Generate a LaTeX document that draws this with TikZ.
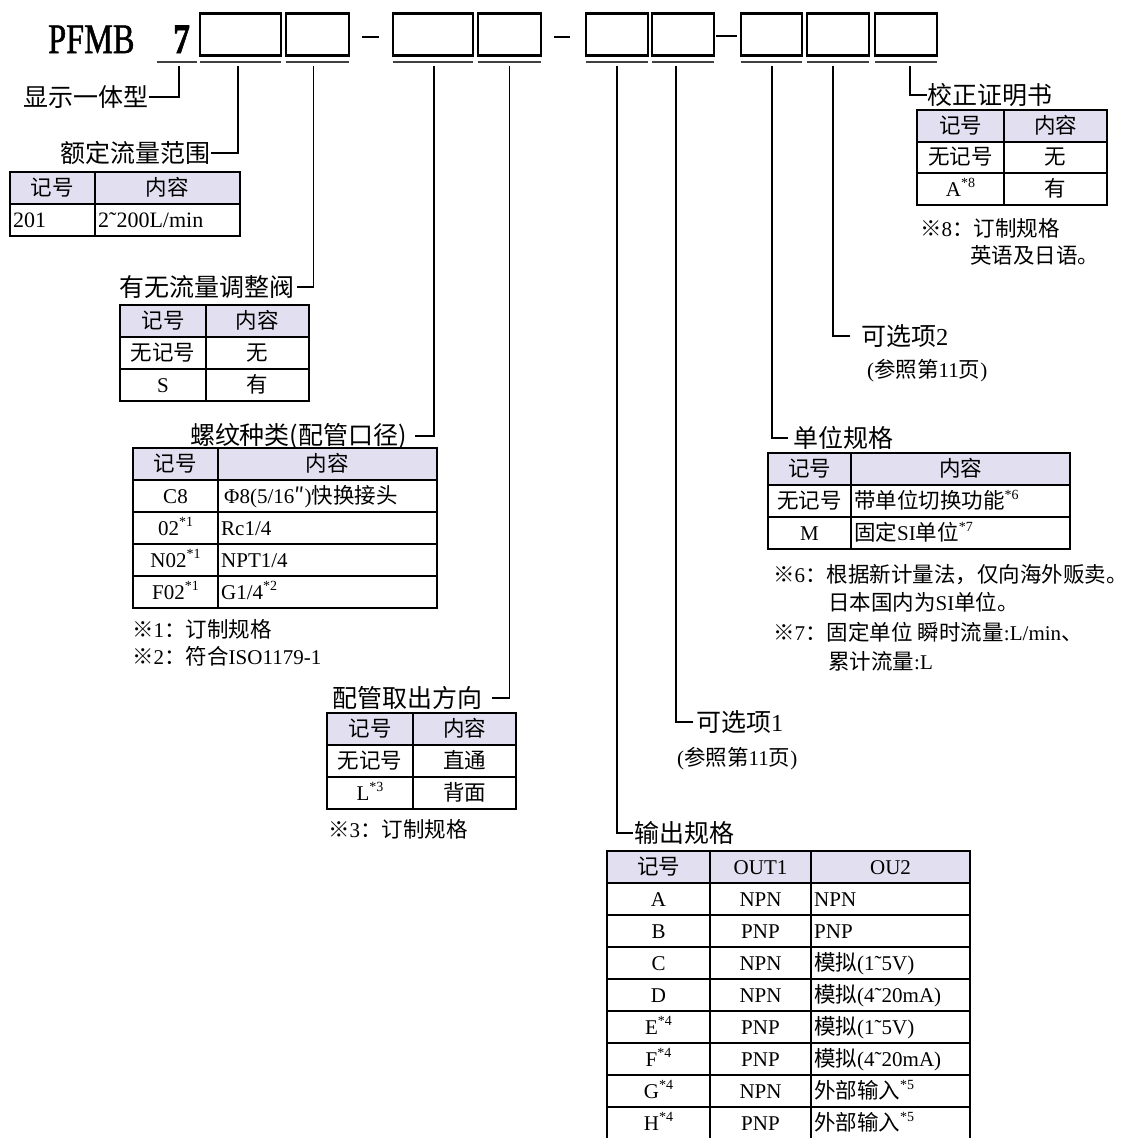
\documentclass[tikz,border=0pt]{standalone}
\usepackage{fontspec}
\setmainfont{Liberation Serif}
\newfontfamily\cjk{Noto Sans CJK SC}[Scale=1.024]
\newfontfamily\bigserifh{Liberation Serif}[FakeStretch=0.77,FakeBold=1.2]
\newfontfamily\sevenf{Liberation Serif Bold}[FakeStretch=0.8,FakeBold=1.5]
\newcommand\zh[1]{{\cjk #1}}
\newcommand\supx[1]{\raisebox{0.42em}{\fontsize{14}{14}\selectfont #1}}
\definecolor{hdr}{RGB}{226,223,240}
\begin{document}
\begin{tikzpicture}[x=1pt,y=-1pt,
  box/.style={draw, line width=2.4pt, inner sep=0pt, outer sep=0pt, anchor=north west, minimum height=42pt},
  uline/.style={line width=1.8pt, black!75},
  dashl/.style={line width=1.4pt},
  leader/.style={line width=1.5pt},
  lbl/.style={inner sep=0pt, font=\fontsize{24.4}{28}\selectfont},
  cell/.style={inner sep=0pt, anchor=base, font=\fontsize{21}{24}\selectfont},
  cellw/.style={cell, anchor=base west},
  note/.style={inner sep=0pt, anchor=base west, font=\fontsize{21}{24}\selectfont},
  tbl/.style={line width=2pt},
]
\useasboundingbox (0,0) rectangle (1128,1138);
\clip (0,0) rectangle (1128,1138);

% ---------- model code ----------
\node[anchor=base west, inner sep=0pt, font=\bigserifh\fontsize{42}{42}\selectfont] (pfmb) at (48,53) {PFMB};
\node[anchor=base west, inner sep=0pt, font=\sevenf\fontsize{42}{42}\selectfont] (seven) at (173,53) {7};
\node[box, minimum width=81pt] (b1) at (200,13.5) {};
\node[box, minimum width=63pt] (b2) at (286,13.5) {};
\node[box, minimum width=80pt] (b3) at (393,13.5) {};
\node[box, minimum width=63pt] (b4) at (478,13.5) {};
\node[box, minimum width=62pt] (b5) at (586,13.5) {};
\node[box, minimum width=62pt] (b6) at (652,13.5) {};
\node[box, minimum width=61pt] (b7) at (741,13.5) {};
\node[box, minimum width=62pt] (b8) at (807,13.5) {};
\node[box, minimum width=62pt] (b9) at (875,13.5) {};
\draw[dashl] (362,37) -- (379,37);
\draw[dashl] (554,37) -- (570,37);
\draw[dashl] (716,36) -- (737,36);
\draw[uline] (157,62) -- (197,62);
\foreach \b in {b1,b2,b3,b4,b5,b6,b7,b8,b9}
  \draw[uline] ([yshift=-6.5pt]\b.south west) -- ([yshift=-6.5pt]\b.south east);

% ---------- leader start points ----------
\coordinate (s0) at (179,66);
\coordinate (s1) at (238,66);
\coordinate (s2) at (313.5,66);
\coordinate (s3) at (434,66);
\coordinate (s4) at (509.5,66);
\coordinate (s5) at (617,66);
\coordinate (s6) at (676,66);
\coordinate (s7) at (772,66);
\coordinate (s8) at (833,66);
\coordinate (s9) at (910,66);

% ---------- labels ----------
\node[lbl, anchor=east] (lab0) at (149,97) {\zh{显示一体型}};
\node[lbl, anchor=east] (lab1) at (211,153) {\zh{额定流量范围}};
\node[lbl, anchor=east] (lab2) at (295,287) {\zh{有无流量调整阀}};
\node[lbl, anchor=east] (lab3) at (407,436) {\zh{螺纹种类(配管口径)}};
\node[lbl, anchor=east] (lab4) at (483,698) {\zh{配管取出方向}};
\node[lbl, anchor=west] (lab5) at (634,833) {\zh{输出规格}};
\node[lbl, anchor=west] (lab6) at (696,722) {\zh{可选项}1};
\node[lbl, anchor=west] (lab7) at (793,438) {\zh{单位规格}};
\node[lbl, anchor=west] (lab8) at (861,336) {\zh{可选项}2};
\node[lbl, anchor=west] (lab9) at (927,95) {\zh{校正证明书}};

\draw[leader] (s0) |- (lab0.east);
\draw[leader] (s1) |- (lab1.east);
\draw[leader] (s2) |- ([xshift=2pt]lab2.east);
\draw[leader] (s3) |- ([xshift=8pt]lab3.east);
\draw[leader] (s4) |- ([xshift=9pt]lab4.east);
\draw[leader] (s5) |- ([xshift=-1pt]lab5.west);
\draw[leader] (s6) |- ([xshift=-3pt]lab6.west);
\draw[leader] (s7) |- ([xshift=-5pt]lab7.west);
\draw[leader] (s8) |- ([xshift=-11pt]lab8.west);
\draw[leader] (s9) |- (lab9.west);

% ---------- T1 rated flow ----------
\fill[hdr] (10,172) rectangle (240,204);
\draw[tbl] (10,172) rectangle (240,236) (10,204) -- (240,204) (95,172) -- (95,236);
\node[cell] (t1a) at (52.5,195.5) {\zh{记号}};
\node[cell] (t1b) at (167.5,195.5) {\zh{内容}};
\node[cellw, font=\fontsize{22}{24}\selectfont] (t1c) at (13,227.5) {201};
\node[cellw, font=\fontsize{22}{24}\selectfont] (t1d) at (98,227.5) {2˜200L/min};

% ---------- T2 flow valve ----------
\fill[hdr] (120,305) rectangle (309,337);
\draw[tbl] (120,305) rectangle (309,401) (120,337) -- (309,337) (120,369) -- (309,369) (206,305) -- (206,401);
\node[cell] (t2a) at (163,328.5) {\zh{记号}};
\node[cell] (t2b) at (257.5,328.5) {\zh{内容}};
\node[cell] (t2c) at (163,360.5) {\zh{无记号}};
\node[cell] (t2d) at (257.5,360.5) {\zh{无}};
\node[cell] (t2e) at (163,392.5) {S};
\node[cell] (t2f) at (257.5,392.5) {\zh{有}};

% ---------- T3 thread ----------
\fill[hdr] (133,448) rectangle (437,480);
\draw[tbl] (133,448) rectangle (437,608);
\foreach \yy in {480,512,544,576} \draw[tbl] (133,\yy) -- (437,\yy);
\draw[tbl] (218,448) -- (218,608);
\node[cell] (t3a) at (175.5,471.5) {\zh{记号}};
\node[cell] (t3b) at (327.5,471.5) {\zh{内容}};
\node[cell] (t3c) at (175.5,503.5) {C8};
\node[cellw] (t3d) at (224,503.5) {Φ8(5/16\zh{″})\zh{快换接头}};
\node[cell] (t3e) at (175.5,535.5) {02\supx{*1}};
\node[cellw] (t3f) at (221,535.5) {Rc1/4};
\node[cell] (t3g) at (175.5,567.5) {N02\supx{*1}};
\node[cellw] (t3h) at (221,567.5) {NPT1/4};
\node[cell] (t3i) at (175.5,599.5) {F02\supx{*1}};
\node[cellw] (t3j) at (221,599.5) {G1/4\supx{*2}};
\node[note] (n1) at (132,637.5) {\zh{※}1\zh{：订制规格}};
\node[note] (n2) at (132,664.5) {\zh{※}2\zh{：符合}ISO1179-1};

% ---------- T4 piping direction ----------
\fill[hdr] (327,713) rectangle (516,745);
\draw[tbl] (327,713) rectangle (516,809) (327,745) -- (516,745) (327,777) -- (516,777) (413,713) -- (413,809);
\node[cell] (t4a) at (370,736.5) {\zh{记号}};
\node[cell] (t4b) at (464.5,736.5) {\zh{内容}};
\node[cell] (t4c) at (370,768.5) {\zh{无记号}};
\node[cell] (t4d) at (464.5,768.5) {\zh{直通}};
\node[cell] (t4e) at (370,800.5) {L\supx{*3}};
\node[cell] (t4f) at (464.5,800.5) {\zh{背面}};
\node[note] (n3) at (328,837.5) {\zh{※}3\zh{：订制规格}};

% ---------- option 1 ----------
\node[note] (p1) at (677,765.5) {(\zh{参照第}11\zh{页})};

% ---------- T5 output ----------
\fill[hdr] (607,851) rectangle (970,883);
\draw[tbl] (607,851) rectangle (970,1141);
\foreach \yy in {883,915,947,979,1011,1043,1075,1107} \draw[tbl] (607,\yy) -- (970,\yy);
\draw[tbl] (710,851) -- (710,1141) (811,851) -- (811,1141);
\node[cell] (t5a) at (658.5,874.5) {\zh{记号}};
\node[cell] (t5b) at (760.5,874.5) {OUT1};
\node[cell] (t5c) at (890.5,874.5) {OU2};
\node[cell] (t5d1) at (658.5,906.5) {A};
\node[cell] (t5d2) at (760.5,906.5) {NPN};
\node[cellw] (t5d3) at (814,906.5) {NPN};
\node[cell] (t5e1) at (658.5,938.5) {B};
\node[cell] (t5e2) at (760.5,938.5) {PNP};
\node[cellw] (t5e3) at (814,938.5) {PNP};
\node[cell] (t5f1) at (658.5,970.5) {C};
\node[cell] (t5f2) at (760.5,970.5) {NPN};
\node[cellw] (t5f3) at (814,970.5) {\zh{模拟}(1˜5V)};
\node[cell] (t5g1) at (658.5,1002.5) {D};
\node[cell] (t5g2) at (760.5,1002.5) {NPN};
\node[cellw] (t5g3) at (814,1002.5) {\zh{模拟}(4˜20mA)};
\node[cell] (t5h1) at (658.5,1034.5) {E\supx{*4}};
\node[cell] (t5h2) at (760.5,1034.5) {PNP};
\node[cellw] (t5h3) at (814,1034.5) {\zh{模拟}(1˜5V)};
\node[cell] (t5i1) at (658.5,1066.5) {F\supx{*4}};
\node[cell] (t5i2) at (760.5,1066.5) {PNP};
\node[cellw] (t5i3) at (814,1066.5) {\zh{模拟}(4˜20mA)};
\node[cell] (t5j1) at (658.5,1098.5) {G\supx{*4}};
\node[cell] (t5j2) at (760.5,1098.5) {NPN};
\node[cellw] (t5j3) at (814,1098.5) {\zh{外部输入}\supx{*5}};
\node[cell] (t5k1) at (658.5,1130.5) {H\supx{*4}};
\node[cell] (t5k2) at (760.5,1130.5) {PNP};
\node[cellw] (t5k3) at (814,1130.5) {\zh{外部输入}\supx{*5}};

% ---------- T7 unit ----------
\fill[hdr] (768,453) rectangle (1070,485);
\draw[tbl] (768,453) rectangle (1070,549) (768,485) -- (1070,485) (768,517) -- (1070,517) (851,453) -- (851,549);
\node[cell] (t7a) at (809.5,476.5) {\zh{记号}};
\node[cell] (t7b) at (960.5,476.5) {\zh{内容}};
\node[cell] (t7c) at (809.5,508.5) {\zh{无记号}};
\node[cellw] (t7d) at (854,508.5) {\zh{带单位切换功能}\supx{*6}};
\node[cell] (t7e) at (809.5,540.5) {M};
\node[cellw] (t7f) at (854,540.5) {\zh{固定}SI\zh{单位}\supx{*7}};
\node[note] (n6) at (773,582.5) {\zh{※}6\zh{：根据新计量法，仅向海外贩卖。}};
\node[note] (n6b) at (828,610.5) {\zh{日本国内为}SI\zh{单位。}};
\node[note] (n7) at (773,640.5) {\zh{※}7\zh{：固定单位}\ \zh{瞬时流量}:L/min\zh{、}};
\node[note] (n7b) at (828,669) {\zh{累计流量}:L};

% ---------- option 2 ----------
\node[note] (p2) at (867,377.5) {(\zh{参照第}11\zh{页})};

% ---------- T9 calibration ----------
\fill[hdr] (917,110) rectangle (1107,141.5);
\draw[tbl] (917,110) rectangle (1107,204.5) (917,141.5) -- (1107,141.5) (917,173) -- (1107,173) (1004,110) -- (1004,204.5);
\node[cell] (t9a) at (960.5,133.25) {\zh{记号}};
\node[cell] (t9b) at (1055.5,133.25) {\zh{内容}};
\node[cell] (t9c) at (960.5,164.75) {\zh{无记号}};
\node[cell] (t9d) at (1055.5,164.75) {\zh{无}};
\node[cell] (t9e) at (960.5,196.25) {A\supx{*8}};
\node[cell] (t9f) at (1055.5,196.25) {\zh{有}};
\node[note] (n8) at (920,236.5) {\zh{※}8\zh{：订制规格}};
\node[note] (n8b) at (970,263.5) {\zh{英语及日语。}};
\end{tikzpicture}
\end{document}
